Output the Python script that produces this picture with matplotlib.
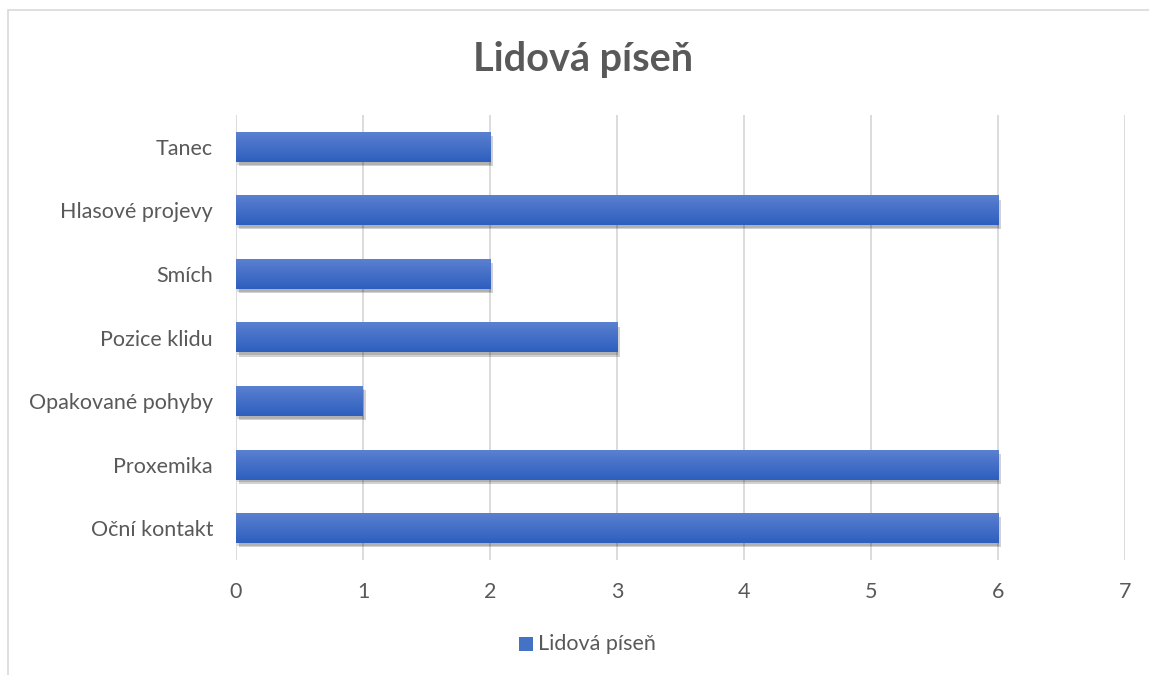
import matplotlib
matplotlib.use("Agg")
import matplotlib.pyplot as plt
import numpy as np
from matplotlib.patches import Rectangle
import matplotlib.patheffects as pe
from matplotlib.colors import LinearSegmentedColormap

categories = ["Oční kontakt", "Proxemika", "Opakované pohyby", "Pozice klidu", "Smích", "Hlasové projevy", "Tanec"]
values = [6, 6, 1, 3, 2, 6, 2]
series_name = "Lidová píseň"
xticks = [0, 1, 2, 3, 4, 5, 6, 7]

plt.rcParams['font.family'] = ['Lato', 'DejaVu Sans']

W, H = 1149, 675
fig = plt.figure(figsize=(W/100, H/100), dpi=100)
fig.patches.append(Rectangle((8/W, -0.2), 1.2, 1.2 - 10/H, transform=fig.transFigure,
                             fill=False, edgecolor='#d9d9d9', linewidth=1.2))

ax = fig.add_axes([236/W, 1 - 560/H, (1125-236)/W, (560-115)/H])
y = np.arange(len(categories))
bars = ax.barh(y, values, height=0.47, color='#4472c4', zorder=3,
               path_effects=[pe.SimplePatchShadow(offset=(2, -3), shadow_rgbFace='#000000', alpha=0.18),
                             pe.SimplePatchShadow(offset=(1, -2), shadow_rgbFace='#000000', alpha=0.15),
                             pe.Normal()])
grad = np.linspace(0, 1, 64).reshape(-1, 1)
cmap = LinearSegmentedColormap.from_list('g', ['#5a80d0', '#2e5fbf'])
for b in bars:
    x0, y0 = b.get_x(), b.get_y()
    w, h = b.get_width(), b.get_height()
    ax.imshow(grad, extent=(x0, x0 + w, y0, y0 + h), origin='upper', cmap=cmap,
              aspect='auto', zorder=4)
ax.set_xlim(0, 7)
ax.set_ylim(-0.5, len(categories) - 0.5)
ax.set_xticks(xticks)
ax.set_xticklabels([str(t) for t in xticks])
ax.set_yticks(y)
ax.set_yticklabels(categories)
ax.grid(axis='x', color='#d9d9d9', linewidth=1.3, zorder=0)
for s in ax.spines.values():
    s.set_visible(False)
ax.tick_params(axis='both', length=0, labelsize=15.5, labelcolor='#595959')
ax.tick_params(axis='x', pad=16)
ax.tick_params(axis='y', pad=16.5)

fig.text(583/W, 1 - 60/H, series_name, ha='center', va='center', fontsize=28.5,
         fontweight='bold', color='#595959')

fig.patches.append(Rectangle((519/W, 1 - 651/H), 14/W, 14/H, transform=fig.transFigure,
                             facecolor='#4472c4', edgecolor='none'))
fig.text(538/W, 1 - 644/H, series_name, ha='left', va='center', fontsize=15.5, color='#595959')

fig.savefig("out.png", dpi=100)
